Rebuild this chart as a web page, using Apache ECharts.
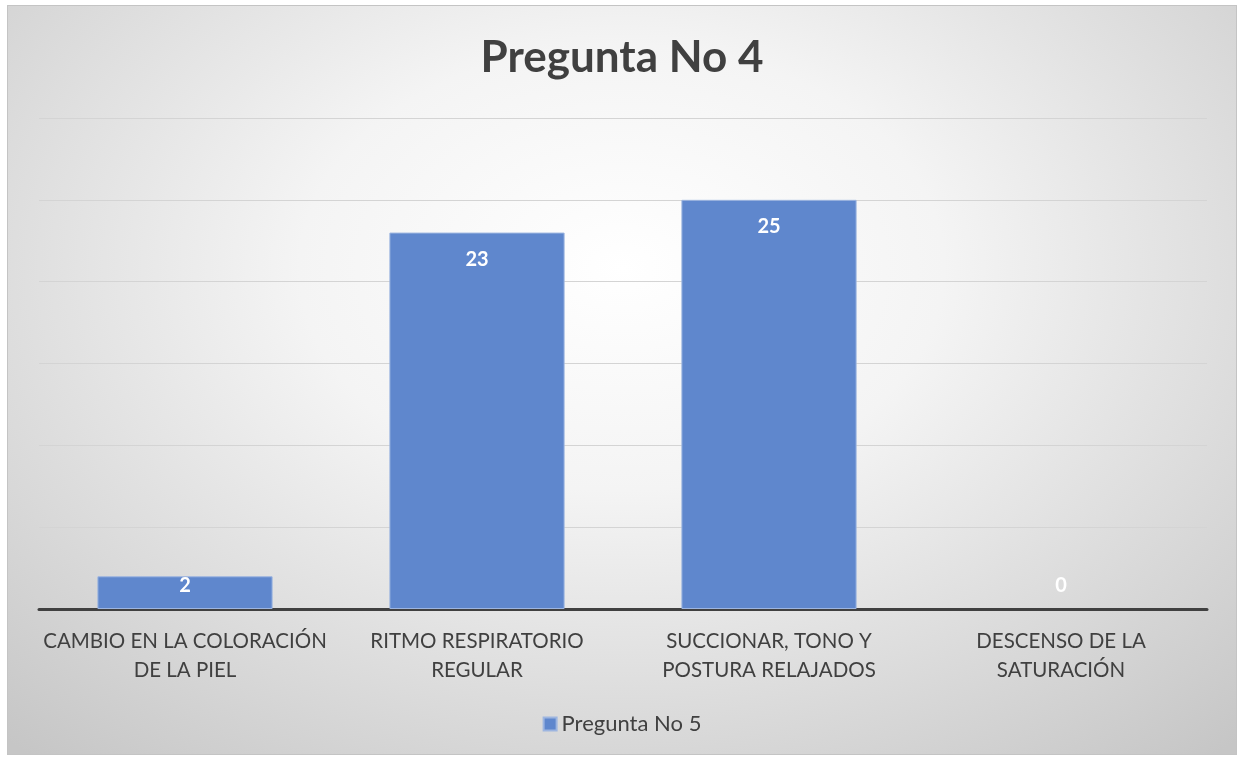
<!DOCTYPE html>
<html>
<head>
<meta charset="utf-8">
<script src="https://cdn.jsdelivr.net/npm/echarts@6/dist/echarts.min.js"></script>
<style>
html, body { margin: 0; padding: 0; background: #ffffff; }
#chart {
    position: absolute;
    left: 7px; top: 5px;
    width: 1228px; height: 748px;
    border: 1px solid #c4c4c4;
    background: radial-gradient(ellipse 75% 85% at 50% 35%, #ffffff 0%, #f4f4f4 35%, #c6c6c6 100%);
}
</style>
</head>
<body>
<div id="chart"></div>
<script>
// datos de la grafica
const categories = [
    'CAMBIO EN LA COLORACIÓN\nDE LA PIEL',
    'RITMO RESPIRATORIO\nREGULAR',
    'SUCCIONAR, TONO Y\nPOSTURA RELAJADOS',
    'DESCENSO DE LA\nSATURACIÓN'
];
const values = [2, 23, 25, 0];
const seriesName = 'Pregunta No 5';
const titleText = 'Pregunta No 4';

const font = 'Lato, "Open Sans", sans-serif';

let chart = echarts.init(document.getElementById('chart'));

// etiquetas: dentro arriba, en barras cortas se quedan sobre el eje
let barData = values.map(v => {
    if (v < 5) {
        return {
            value: v,
            label: { position: 'insideBottom', distance: 13 },
            itemStyle: { borderWidth: v === 0 ? 0 : 1 }
        };
    }
    return v;
});

let option = {
    backgroundColor: 'transparent',
    animation: false,
    title: {
        text: titleText,
        left: 'center',
        top: 25,
        textStyle: {
            color: '#404040',
            fontFamily: font,
            fontWeight: 'bold',
            fontSize: 44
        }
    },
    legend: {
        bottom: 14,
        left: 'center',
        itemWidth: 13,
        itemHeight: 13,
        itemGap: 6,
        icon: 'rect',
        textStyle: {
            color: '#404040',
            fontFamily: font,
            fontSize: 22
        },
        data: [seriesName]
    },
    grid: {
        left: 31,
        right: 29,
        top: 112,
        height: 491
    },
    xAxis: {
        type: 'category',
        data: categories,
        axisLine: {
            show: true,
            lineStyle: { color: '#404040', width: 3 }
        },
        axisTick: { show: false },
        axisLabel: {
            color: '#404040',
            fontFamily: font,
            fontSize: 20.5,
            lineHeight: 29,
            margin: 18,
            interval: 0
        }
    },
    yAxis: {
        type: 'value',
        min: 0,
        max: 30,
        interval: 5,
        axisLine: { show: false },
        axisTick: { show: false },
        axisLabel: { show: false },
        splitLine: {
            show: true,
            lineStyle: { color: '#d4d4d4', width: 1 }
        }
    },
    series: [{
        name: seriesName,
        type: 'bar',
        barWidth: '60%',
        itemStyle: {
            color: '#5f87cd',
            borderColor: '#9db5e0',
            borderWidth: 1
        },
        label: {
            show: true,
            position: 'insideTop',
            distance: 17,
            color: '#ffffff',
            fontFamily: font,
            fontWeight: 'bold',
            fontSize: 20
        },
        data: barData
    }]
};

chart.setOption(option);
window.addEventListener('resize', () => { chart.resize(); });
</script>
</body>
</html>
